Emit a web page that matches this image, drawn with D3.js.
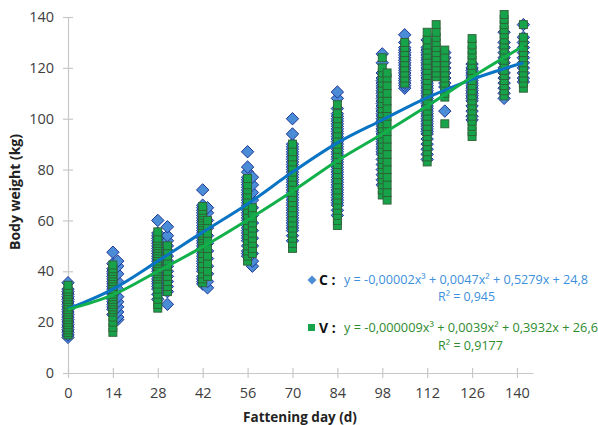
<!DOCTYPE html>
<html><head><meta charset="utf-8">
<script src="https://cdnjs.cloudflare.com/ajax/libs/d3/7.8.5/d3.min.js"></script>
<style>body{margin:0;background:#fff}svg{display:block}</style>
</head><body><svg id="chart" width="598" height="425"></svg>
<script>
// ---- data ----
const xTicks = [0, 14, 28, 42, 56, 70, 84, 98, 112, 126, 140];
const yTicks = [0, 20, 40, 60, 80, 100, 120, 140];

const cDays = [0, 14, 15.5, 28, 31, 42, 43.5, 56, 57.5, 70, 84, 98, 105, 112, 117.5, 126, 136, 142];
const cWeights = [
  [14,15,16,17,18,19,20,21,22,23,24,25,26,27,28,29,30,31,32,33,35.5],
  [23,25,26,27,28,29,30,31,32,33,34,35,36,37,38,39,40,41,43,47.5],
  [21,22,24,26,28,30,33,36,39,42,44],
  [29,31,33,34,35,36,37,38,39,40,41,42,43,44,45,46,47,48,49,50,51,52,53,54,55,60],
  [27,32,34,36,38,40,42,44,46,48,50,52,54,57.5],
  [35,36,37,38,40,41,42,43,44,45,46,47,48,49,50,51,52,53,54,55,56,57,58,59,60,61,62,63,64,65,66,72],
  [33.5,36,39,42,45,48,51,54,57,60,63,65],
  [46,47,48,50,52,53,54,55,56,57,58,59,60,61,62,63,64,65,66,67,68,69,70,71,72,73,74,75,76,77,79,81,87],
  [42,44,47,50,53,56,59,62,65,68,71,74,77],
  [52,54,56,57,58,59,60,61,62,63,64,65,66,67,68,69,70,71,72,73,74,75,76,77,78,79,80,81,82,83,84,85,86,87,88,89,90,94,100],
  [62,64,66,67,68,69,70,71,72,73,74,75,76,77,78,79,80,81,82,83,84,85,86,87,88,89,90,91,92,93,94,95,96,97,98,99,100,101,102,104,108,110.5],
  [74,76,78,80,82,84,86,87,88,89,90,91,92,93,94,95,96,97,98,99,100,101,102,103,104,105,106,107,108,109,110,111,112,113,114,115,116,118,122,125.5],
  [112,113,114,115,116,117,118,119,120,121,122,123,124,125,126,127,128,130,133],
  [84,86,88,90,92,94,95,96,97,98,99,100,101,102,103,104,105,106,107,108,109,110,111,112,113,114,115,116,117,118,119,120,121,122,123,124,125,126,127,128,131],
  [103,112.5,114,116,118,120,122,124,126],
  [99.5,101,103,105,107,108,109,110,111,112,113,114,115,116,117,118,119,120,121.5],
  [108,110,112,114,116,118,120,122,124,126,128,130,134],
  [114.5,116,118,120,122,124,126,128,130,132,137]
];

const vDays = [0, 14, 28, 31, 42, 43.5, 56, 57.5, 70, 84, 98, 99.5, 105, 112, 114.8, 117.5, 126, 136, 142];
const vWeights = [
  [15,16,17,18,19,20,21,22,23,24,25,26,27,28,29,30,31,32,33,34.5],
  [16,18,20,22,24,25,26,27,28,29,30,31,32,33,34,35,36,37,38,39,40,41,42.5],
  [25.5,27,29,31,33,35,37,38,39,40,41,42,43,44,45,46,47,48,49,50,51,52,53,55.5],
  [32,34,36,38,40,42,44,46,48,50],
  [35.5,37,39,41,43,45,47,49,50,51,52,53,54,55,56,57,58,59,60,61,62,63,64,65.5],
  [38,40,43,46,49,52,55,58,60],
  [44,46,48,50,52,54,56,58,60,62,64,66,68,70,72,74,76.5],
  [47,49,51,53,55,57,59,61,63,65],
  [49,51,53,55,57,59,61,63,65,67,69,71,73,75,77,79,81,83,85,87,90],
  [58,60,62,64,66,68,70,72,74,76,78,80,82,84,86,88,90,92,94,96,98,100,102,105.5],
  [70,72,74,76,78,80,82,84,86,88,90,92,94,96,98,100,102,104,106,108,110,112,114,116,118,120,124],
  [68,71,74,77,80,83,86,89,92,95,98,101,104,107,110,113,116,118],
  [114,116,118,120,122,124,126,128,130],
  [83,85,87,89,91,93,95,97,99,101,103,105,107,109,111,113,115,117,119,121,123,125,127,129,131,134],
  [116.5,118,120,122,124,126,128,130,132,134,137],
  [98,108.5,110,112,114,116,118,120,122,124,127],
  [93,95,97,99,101,103,105,107,109,111,113,115,117,119,121,123,125,127,129,131.5],
  [109,111,113,115,117,119,121,123,125,127,129,131,133,135,137,139,141],
  [112,114,116,118,120,122,124,126,128,130,132,137]
];

// trend lines
const trendDays = [0, 14, 28, 42, 56, 70, 84, 98, 112, 126, 142];
const cTrend = [25.2, 33, 44, 55.4, 66.5, 79, 90.5, 99.5, 108.3, 115.5, 122];
const vTrend = [25, 30.7, 40, 49.6, 60.2, 71.5, 83.5, 94, 105, 116.4, 128.6];

const cEquation = "y = -0,00002x³ + 0,0047x² + 0,5279x + 24,8";
const cR2 = "R² = 0,945";
const vEquation = "y = -0,000009x³ + 0,0039x² + 0,3932x + 26,6";
const vR2 = "R² = 0,9177";

// ---- drawing ----
const svg = d3.select("#chart");
const x = d3.scaleLinear().domain([0, 145]).range([68, 533]);
const y = d3.scaleLinear().domain([0, 140]).range([373, 17]);
const font = "'Open Sans', sans-serif";

// axes
const yAxis = svg.append("g").attr("transform", `translate(${x(0)},0)`)
  .call(d3.axisLeft(y).tickValues(yTicks).tickSizeInner(5).tickSizeOuter(0).tickPadding(9));
const xAxis = svg.append("g").attr("transform", `translate(0,${y(0)})`)
  .call(d3.axisBottom(x).tickValues(xTicks).tickSizeInner(5).tickSizeOuter(0).tickPadding(10));
[yAxis, xAxis].forEach(g => {
  g.select(".domain").attr("stroke", "#c8c8c8").attr("stroke-width", 1.2);
  g.selectAll(".tick line").attr("stroke", "#c8c8c8").attr("stroke-width", 1.2);
  g.selectAll(".tick text").attr("font-family", font).attr("font-size", 14.5).attr("fill", "#404040");
});
// ticks cross the axis
yAxis.selectAll(".tick line").attr("x1", 5).attr("x2", -5);
xAxis.selectAll(".tick line").attr("y1", -5).attr("y2", 5);

// axis titles
svg.append("text").attr("x", 300).attr("y", 422).attr("text-anchor", "middle")
  .attr("font-family", font).attr("font-weight", "bold").attr("font-size", 13.5).attr("fill", "#222")
  .text("Fattening day (d)");
svg.append("text").attr("transform", "translate(20,192) rotate(-90)").attr("text-anchor", "middle")
  .attr("font-family", font).attr("font-weight", "bold").attr("font-size", 14).attr("fill", "#222")
  .text("Body weight (kg)");

// points
const cPts = [], vPts = [];
cDays.forEach((d, i) => cWeights[i].forEach(w => cPts.push([d, w])));
vDays.forEach((d, i) => vWeights[i].forEach(w => vPts.push([d, w])));

const diamond = r => `M0,${-r}L${r},0L0,${r}L${-r},0Z`;
svg.append("g").selectAll("path").data(cPts).join("path")
  .attr("d", diamond(6.2))
  .attr("transform", d => `translate(${x(d[0])},${y(d[1])})`)
  .attr("fill", "#4a8dd6").attr("stroke", "#1f3596").attr("stroke-width", 1);

const s = 8;
svg.append("g").selectAll("rect").data(vPts).join("rect")
  .attr("x", d => x(d[0]) - s / 2).attr("y", d => y(d[1]) - s / 2)
  .attr("width", s).attr("height", s)
  .attr("fill", "#17a34a").attr("stroke", "#2f5f36").attr("stroke-width", 0.9);

// trend lines
const line = d3.line().x((d, i) => x(trendDays[i])).y(d => y(d)).curve(d3.curveMonotoneX);
svg.append("path").attr("d", line(cTrend)).attr("fill", "none").attr("stroke", "#0a74c4").attr("stroke-width", 3);
svg.append("path").attr("d", line(vTrend)).attr("fill", "none").attr("stroke", "#12b04a").attr("stroke-width", 3);

// legend / equations
svg.append("path").attr("d", diamond(4.5)).attr("transform", "translate(312,280)").attr("fill", "#4a8dd6");
svg.append("rect").attr("x", 308).attr("y", 324).attr("width", 7).attr("height", 7).attr("fill", "#17a34a");
svg.append("text").attr("x", 319).attr("y", 285).attr("font-family", font).attr("font-weight", "bold")
  .attr("font-size", 14).attr("fill", "#111").text("C :");
svg.append("text").attr("x", 319).attr("y", 333).attr("font-family", font).attr("font-weight", "bold")
  .attr("font-size", 14).attr("fill", "#111").text("V :");
svg.append("text").attr("x", 344).attr("y", 284).attr("font-family", font).attr("font-size", 12.5)
  .attr("fill", "#3c8fdc").attr("textLength", 244).attr("lengthAdjust", "spacingAndGlyphs").text(cEquation);
svg.append("text").attr("x", 438).attr("y", 301).attr("font-family", font).attr("font-size", 12.5)
  .attr("fill", "#3c8fdc").attr("textLength", 57).attr("lengthAdjust", "spacingAndGlyphs").text(cR2);
svg.append("text").attr("x", 344).attr("y", 332).attr("font-family", font).attr("font-size", 12.5)
  .attr("fill", "#2e8b2e").attr("textLength", 254).attr("lengthAdjust", "spacingAndGlyphs").text(vEquation);
svg.append("text").attr("x", 438).attr("y", 350).attr("font-family", font).attr("font-size", 12.5)
  .attr("fill", "#2e8b2e").attr("textLength", 65).attr("lengthAdjust", "spacingAndGlyphs").text(vR2);
</script></body></html>
